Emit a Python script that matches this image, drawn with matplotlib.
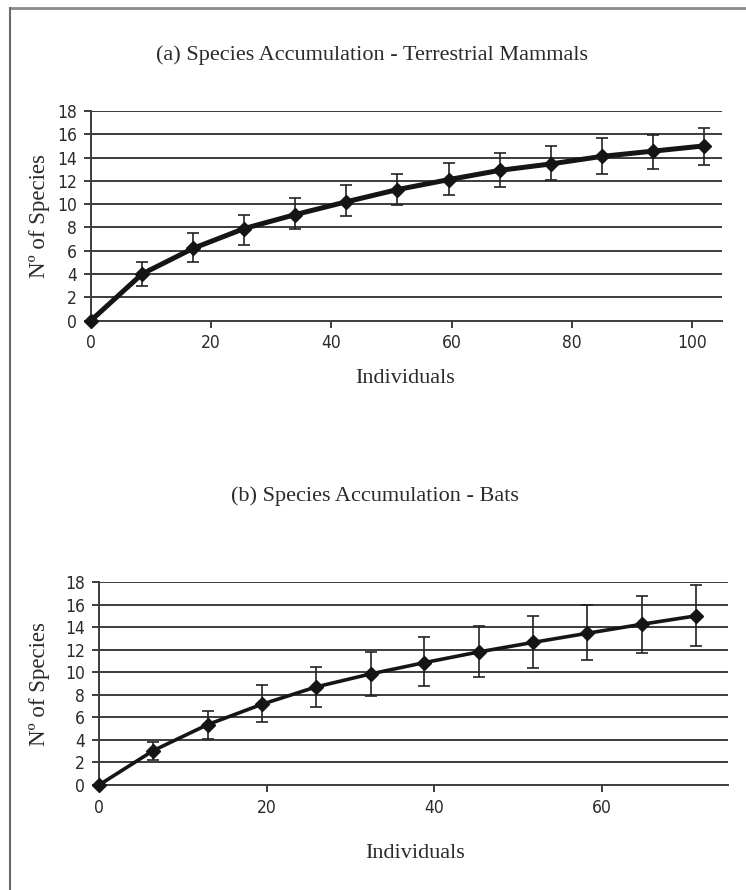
import matplotlib
matplotlib.use("Agg")
import matplotlib.pyplot as plt
from matplotlib.lines import Line2D

# ---- data: (a) Terrestrial Mammals ----
mam_x = [0, 8.5, 17, 25.5, 34, 42.5, 51, 59.5, 68, 76.5, 85, 93.5, 102]
mam_y = [0, 4.0, 6.2, 7.9, 9.1, 10.2, 11.25, 12.1, 12.9, 13.45, 14.1, 14.55, 15.0]
mam_hi = [0, 5.0, 7.5, 9.1, 10.5, 11.6, 12.6, 13.5, 14.4, 15.0, 15.65, 15.95, 16.5]
mam_lo = [0, 3.0, 5.0, 6.5, 7.9, 9.0, 9.9, 10.75, 11.5, 12.1, 12.6, 13.0, 13.4]

# ---- data: (b) Bats ----
bat_x = [0, 6.47, 12.94, 19.4, 25.9, 32.4, 38.8, 45.3, 51.8, 58.2, 64.7, 71.2]
bat_y = [0, 3.05, 5.35, 7.15, 8.7, 9.85, 10.85, 11.8, 12.65, 13.45, 14.25, 15.0]
bat_hi = [0, 3.8, 6.6, 8.85, 10.5, 11.8, 13.1, 14.1, 15.0, 15.95, 16.8, 17.75]
bat_lo = [0, 2.2, 4.1, 5.6, 6.9, 7.9, 8.8, 9.6, 10.4, 11.05, 11.7, 12.3]

y_ticks = [0, 2, 4, 6, 8, 10, 12, 14, 16, 18]
mam_xticks = [0, 20, 40, 60, 80, 100]
bat_xticks = [0, 20, 40, 60]

titles = ["(a) Species Accumulation - Terrestrial Mammals",
          "(b) Species Accumulation - Bats"]

serif = ["Liberation Serif", "DejaVu Serif"]
narrow = ["DejaVu Sans", "Liberation Sans"]
txt = "#2a2a2a"

fig = plt.figure(figsize=(7.46, 8.9), dpi=100)

# frame lines (top and left)
fig.add_artist(Line2D([10/746, 1.0], [1 - 8/890, 1 - 8/890], color="#8a8a8a", lw=2.0,
                      transform=fig.transFigure))
fig.add_artist(Line2D([10/746, 10/746], [0.0, 1 - 8/890], color="#6a6a6a", lw=1.5,
                      transform=fig.transFigure))

panels = [
    dict(rect=[91/746, 1 - 320.5/890, 631/746, 209.5/890], x=mam_x, y=mam_y, hi=mam_hi,
         lo=mam_lo, xlim=105, xt=mam_xticks, lw=3.6, title_y=1 - 55/890,
         title_x=372/746, xl_y=1 - 378/890, xl_x=405/746, yl_x=40/746),
    dict(rect=[99/746, 1 - 785/890, 629/746, 203/890], x=bat_x, y=bat_y, hi=bat_hi,
         lo=bat_lo, xlim=75, xt=bat_xticks, lw=2.6, title_y=1 - 496/890,
         title_x=375/746, xl_y=1 - 853/890, xl_x=415/746, yl_x=40/746),
]

for p, title in zip(panels, titles):
    ax = fig.add_axes(p["rect"])
    ax.set_xlim(0, p["xlim"])
    ax.set_ylim(0, 18)
    ax.set_yticks(y_ticks)
    ax.set_xticks(p["xt"])
    for yv in y_ticks[1:]:
        ax.axhline(yv, color="#3c3c3c", lw=1.4, zorder=1)
    for s in ["top", "right"]:
        ax.spines[s].set_visible(False)
    ax.spines["left"].set_color("#3c3c3c")
    ax.spines["bottom"].set_color("#3c3c3c")
    ax.spines["left"].set_linewidth(1.4)
    ax.spines["bottom"].set_linewidth(1.4)
    ax.tick_params(direction="out", length=5, width=1.4, color="#3c3c3c",
                   labelcolor=txt, labelsize=12.5, pad=5)
    for lab in ax.get_xticklabels() + ax.get_yticklabels():
        lab.set_family(narrow)
        lab.set_stretch("condensed")
    yerr = [[v - l for v, l in zip(p["y"], p["lo"])],
            [h - v for v, h in zip(p["y"], p["hi"])]]
    ax.errorbar(p["x"][1:], p["y"][1:],
                yerr=[yerr[0][1:], yerr[1][1:]], fmt="none",
                ecolor="#222222", elinewidth=1.2, capsize=4, capthick=1.2, zorder=3)
    ax.plot(p["x"], p["y"], color="#151515", lw=p["lw"], marker="D", markersize=7,
            markerfacecolor="#151515", markeredgecolor="#151515", zorder=4, clip_on=False)
    fig.text(p["title_x"], p["title_y"], title, ha="center", va="center",
             family=serif, fontsize=16, color=txt)
    fig.text(p["xl_x"], p["xl_y"], "Individuals", ha="center", va="center",
             family=serif, fontsize=16, color=txt)
    yc = p["rect"][1] + p["rect"][3] / 2
    fig.text(p["yl_x"], yc, "Nº of Species", ha="center", va="center", rotation=90,
             family=serif, fontsize=16.5, color=txt)

fig.savefig("out.png", dpi=100, facecolor="white")
